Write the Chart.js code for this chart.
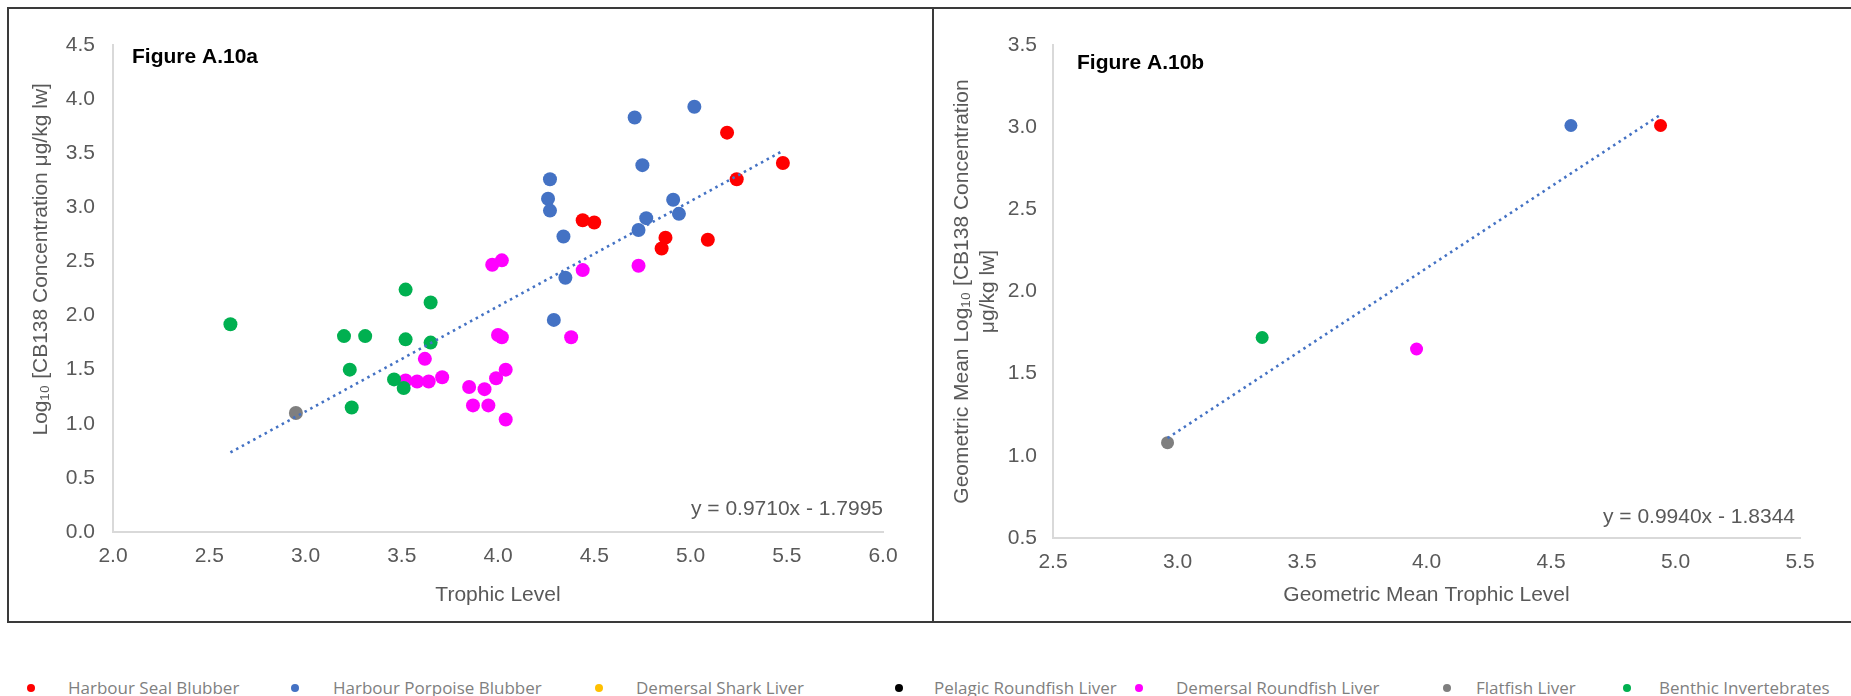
<!DOCTYPE html>
<html>
<head>
<meta charset="utf-8">
<script src="https://cdn.jsdelivr.net/npm/chart.js@4.4.1/dist/chart.umd.min.js"></script>
<style>
  body { margin: 0; background: #fff; width: 1851px; height: 696px; overflow: hidden; position: relative; }
  .panel { position: absolute; border: 2px solid #3a3a3a; box-sizing: border-box; }
  #panelA { left: 7px; top: 7px; width: 927px; height: 616px; }
  #panelB { left: 932px; top: 7px; width: 930px; height: 616px; }
  canvas { position: absolute; }
  #chartA { left: 10px; top: 10px; }
  #chartB { left: 934px; top: 10px; }
  #legend { position: absolute; left: 0; top: 676px; width: 1851px; height: 24px;
            font-family: "Open Sans", sans-serif; font-size: 17px; color: #7f7f7f; }
  .lg-text { position: absolute; top: 0; line-height: 24px; white-space: nowrap; }
  .lg-dot { position: absolute; top: 8px; width: 8px; height: 8px; border-radius: 50%; }
</style>
</head>
<body>
<div class="panel" id="panelA"></div>
<div class="panel" id="panelB"></div>
<canvas id="chartA" width="920" height="610"></canvas>
<canvas id="chartB" width="917" height="610"></canvas>
<div id="legend"></div>

<script>
// =============================
// Data - Figure A.10a (individual samples)
// =============================
const sealTL  = [4.44, 4.50, 5.19, 5.48, 5.24, 4.87, 4.85, 5.09];
const sealLog = [2.88, 2.86, 3.69, 3.41, 3.26, 2.72, 2.62, 2.70];

const porpoiseTL  = [4.27, 4.26, 4.27, 4.34, 4.35, 4.29, 4.71, 4.75, 5.02, 4.91, 4.94, 4.77, 4.73];
const porpoiseLog = [3.26, 3.08, 2.97, 2.73, 2.35, 1.96, 3.83, 3.39, 3.93, 3.07, 2.94, 2.90, 2.79];

const demersalTL  = [3.62, 3.52, 3.58, 3.64, 3.71, 3.85, 3.93, 3.87, 3.95, 4.04,
                     3.99, 4.04, 4.00, 4.02, 4.38, 3.97, 4.02, 4.44, 4.73];
const demersalLog = [1.60, 1.40, 1.39, 1.39, 1.43, 1.34, 1.32, 1.17, 1.17, 1.04,
                     1.42, 1.50, 1.82, 1.80, 1.80, 2.47, 2.51, 2.42, 2.46];

const flatfishTL  = [2.95];
const flatfishLog = [1.10];

const benthicTL  = [2.61, 3.20, 3.31, 3.52, 3.65, 3.65, 3.52, 3.23, 3.46, 3.51, 3.24];
const benthicLog = [1.92, 1.81, 1.81, 1.78, 1.75, 2.12, 2.24, 1.50, 1.41, 1.33, 1.15];

// trendline end points (y = 0.9710x - 1.7995)
const trendA_TL  = [2.61, 5.48];
const trendA_Log = [0.735, 3.522];

// =============================
// Data - Figure A.10b (geometric means)
// =============================
const gmSealTL = [4.94],     gmSealLog = [3.01];
const gmPorpoiseTL = [4.58], gmPorpoiseLog = [3.01];
const gmDemersalTL = [3.96], gmDemersalLog = [1.65];
const gmFlatfishTL = [2.96], gmFlatfishLog = [1.08];
const gmBenthicTL = [3.34],  gmBenthicLog = [1.72];

// trendline end points (y = 0.9940x - 1.8344)
const trendB_TL  = [2.96, 4.94];
const trendB_Log = [1.108, 3.076];

// axis ranges
const xRangeA = [2.0, 6.0], yRangeA = [0.0, 4.5];
const xRangeB = [2.5, 5.5], yRangeB = [0.5, 3.5];

// legend
const seriesNames  = ["Harbour Seal Blubber", "Harbour Porpoise Blubber", "Demersal Shark Liver",
                      "Pelagic Roundfish Liver", "Demersal Roundfish Liver", "Flatfish Liver", "Benthic Invertebrates"];
const seriesColors = ["#ff0000", "#4472c4", "#ffc000", "#000000", "#ff00ff", "#7f7f7f", "#00b050"];

// =============================
// Helpers
// =============================
const FONT = "Arial, 'Liberation Sans', sans-serif";
const TEXT_GREY = "#595959";

function pts(xs, ys) {
  return xs.map((x, i) => ({ x: x, y: ys[i] }));
}

function pointSet(name, xs, ys, radius) {
  const i = seriesNames.indexOf(name);
  return {
    label: name,
    data: pts(xs, ys),
    backgroundColor: seriesColors[i],
    borderColor: seriesColors[i],
    borderWidth: 0,
    pointRadius: radius,
    order: 10 - i
  };
}

function trendSet(xs, ys) {
  return {
    type: "line",
    label: "Trend",
    data: pts(xs, ys),
    showLine: true,
    borderColor: "#4472c4",
    borderWidth: 2.6,
    borderDash: [2.5, 4],
    pointRadius: 0,
    fill: false,
    order: 0
  };
}

// figure label + regression equation
const panelText = {
  id: "panelText",
  afterDatasetsDraw(chart, args, opts) {
    const { ctx, chartArea } = chart;
    ctx.save();
    ctx.textBaseline = "middle";
    ctx.font = "bold 21px " + FONT;
    ctx.fillStyle = "#000";
    ctx.textAlign = "left";
    ctx.fillText(opts.figure, chartArea.left + opts.figDx, chartArea.top + opts.figDy);
    ctx.font = "21px " + FONT;
    ctx.fillStyle = TEXT_GREY;
    ctx.textAlign = "right";
    ctx.fillText(opts.equation, chartArea.right + opts.eqDx, chartArea.bottom - opts.eqDy);
    ctx.restore();
  }
};

function makeOptions(cfg) {
  return {
    responsive: false,
    animation: false,
    layout: { padding: { left: 0, top: 35, right: cfg.padRight, bottom: 0 } },
    plugins: {
      legend: { display: false },
      tooltip: { enabled: false },
      panelText: cfg.text
    },
    scales: {
      x: {
        type: "linear",
        min: cfg.xRange[0],
        max: cfg.xRange[1],
        grid: { display: false, drawTicks: false },
        border: { display: true, color: "#d9d9d9", width: 2 },
        ticks: {
          stepSize: 0.5,
          autoSkip: false,
          maxRotation: 0,
          padding: 12,
          color: TEXT_GREY,
          font: { family: FONT, size: 21 },
          callback: v => v.toFixed(1)
        },
        title: {
          display: true,
          text: cfg.xTitle,
          color: TEXT_GREY,
          font: { family: FONT, size: 21 },
          padding: { top: 0, bottom: 12 }
        },
        afterFit: s => { s.height = cfg.xAxisH; }
      },
      y: {
        type: "linear",
        min: cfg.yRange[0],
        max: cfg.yRange[1],
        grid: { display: false, drawTicks: false },
        border: { display: true, color: "#d9d9d9", width: 2 },
        ticks: {
          stepSize: 0.5,
          padding: cfg.yTickPad,
          color: TEXT_GREY,
          font: { family: FONT, size: 21 },
          callback: v => v.toFixed(1)
        },
        title: {
          display: true,
          text: cfg.yTitle,
          color: TEXT_GREY,
          font: { family: FONT, size: 21, lineHeight: 1.25 },
          padding: { top: cfg.yTitlePad, bottom: 0 }
        },
        afterFit: s => { s.width = cfg.yAxisW; }
      }
    }
  };
}

// =============================
// Figure A.10a
// =============================
new Chart(document.getElementById("chartA"), {
  type: "scatter",
  data: {
    datasets: [
      pointSet("Harbour Seal Blubber", sealTL, sealLog, 7),
      pointSet("Harbour Porpoise Blubber", porpoiseTL, porpoiseLog, 7),
      pointSet("Demersal Roundfish Liver", demersalTL, demersalLog, 7),
      pointSet("Flatfish Liver", flatfishTL, flatfishLog, 7),
      pointSet("Benthic Invertebrates", benthicTL, benthicLog, 7),
      trendSet(trendA_TL, trendA_Log)
    ]
  },
  options: makeOptions({
    xRange: xRangeA,
    yRange: yRangeA,
    padRight: 47,
    xAxisH: 88,
    yAxisW: 103,
    yTickPad: 18,
    yTitlePad: 18,
    xTitle: "Trophic Level",
    yTitle: "          Log\u2081\u2080 [CB138 Concentration \u03bcg/kg lw]",
    text: { figure: "Figure A.10a", figDx: 19, figDy: 12,
            equation: "y = 0.9710x - 1.7995", eqDx: 0, eqDy: 23 }
  }),
  plugins: [panelText]
});

// =============================
// Figure A.10b
// =============================
new Chart(document.getElementById("chartB"), {
  type: "scatter",
  data: {
    datasets: [
      pointSet("Harbour Seal Blubber", gmSealTL, gmSealLog, 6.5),
      pointSet("Harbour Porpoise Blubber", gmPorpoiseTL, gmPorpoiseLog, 6.5),
      pointSet("Demersal Roundfish Liver", gmDemersalTL, gmDemersalLog, 6.5),
      pointSet("Flatfish Liver", gmFlatfishTL, gmFlatfishLog, 6.5),
      pointSet("Benthic Invertebrates", gmBenthicTL, gmBenthicLog, 6.5),
      trendSet(trendB_TL, trendB_Log)
    ]
  },
  options: makeOptions({
    xRange: xRangeB,
    yRange: yRangeB,
    padRight: 51,
    xAxisH: 82,
    yAxisW: 119,
    yTickPad: 16,
    yTitlePad: 15,
    xTitle: "Geometric Mean Trophic Level",
    yTitle: ["Geometric Mean Log\u2081\u2080 [CB138 Concentration", "\u03bcg/kg lw]"],
    text: { figure: "Figure A.10b", figDx: 24, figDy: 18,
            equation: "y = 0.9940x - 1.8344", eqDx: -5, eqDy: 21 }
  }),
  plugins: [panelText]
});

// =============================
// Shared legend
// =============================
const legendDotX  = [31, 295, 599, 899, 1139, 1447, 1627];
const legendTextX = [68, 333, 636, 934, 1176, 1476, 1659];
const legendEl = document.getElementById("legend");
seriesNames.forEach((name, i) => {
  const dot = document.createElement("div");
  dot.className = "lg-dot";
  dot.style.left = (legendDotX[i] - 4) + "px";
  dot.style.background = seriesColors[i];
  legendEl.appendChild(dot);

  const txt = document.createElement("div");
  txt.className = "lg-text";
  txt.style.left = legendTextX[i] + "px";
  txt.textContent = name;
  legendEl.appendChild(txt);
});
</script>
</body>
</html>
